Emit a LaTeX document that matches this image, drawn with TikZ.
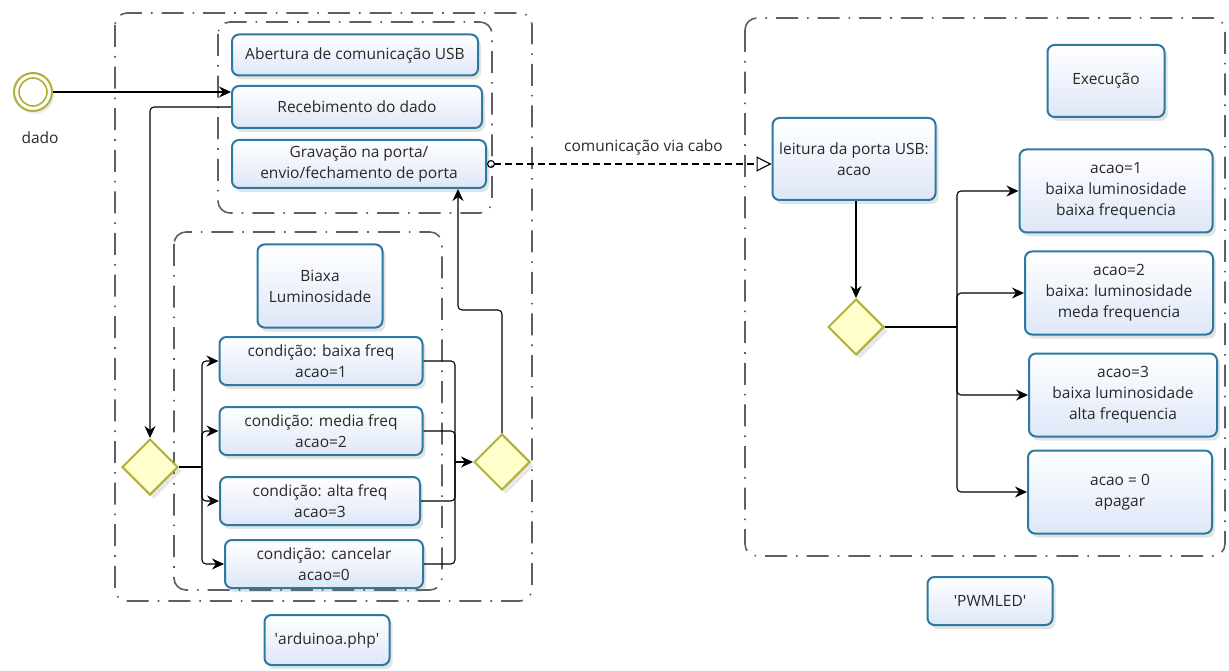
\documentclass[tikz,border=0pt]{standalone}
\usepackage{fontspec}
\setmainfont{Open Sans}
\usetikzlibrary{shapes.geometric,arrows.meta,shadows}
\definecolor{boxline}{RGB}{44,122,160}
\definecolor{boxfill}{RGB}{222,231,248}
\definecolor{gwline}{RGB}{176,176,56}
\definecolor{gwfill}{RGB}{255,255,204}
\definecolor{poolline}{RGB}{95,95,95}
\definecolor{txt}{RGB}{40,40,40}
\tikzset{
  task/.style={rectangle, rounded corners=7pt, draw=boxline, line width=2pt,
    top color=white, bottom color=boxfill, align=center, text=txt,
    font=\fontsize{15.5}{21}\selectfont, inner sep=1pt,
    drop shadow={opacity=0.22, shadow xshift=3pt, shadow yshift=-4pt}},
  gateway/.style={diamond, draw=gwline, fill=gwfill, line width=2pt,
    minimum width=56pt, minimum height=56pt, inner sep=0pt,
    drop shadow={opacity=0.18, shadow xshift=4pt, shadow yshift=-4pt}},
  pool/.style={draw=poolline, line width=1.6pt, rounded corners=12pt,
    dash pattern=on 22pt off 9pt on 1.6pt off 9pt},
  flow/.style={draw=black, line width=1.1pt, rounded corners=4pt,
    -{Stealth[length=12pt,width=11pt]}},
  line/.style={draw=black, line width=1.1pt, rounded corners=4pt},
}
\begin{document}
\begin{tikzpicture}[x=1pt,y=-1pt]
\useasboundingbox (0,0) rectangle (1229,671);

% containers
\draw[pool] (115,13) rectangle (532,601);
\draw[pool] (218,22) rectangle (492,213);
\draw[pool] (174,232) rectangle (442,590);
\draw[pool] (745,18) rectangle (1225,556);

% start event
\node[circle, draw=gwline, line width=2pt, fill=white, minimum size=38pt,
  drop shadow={opacity=0.15, shadow xshift=2pt, shadow yshift=-3pt}] (start) at (33,92) {};
\node[circle, draw=gwline, line width=1.6pt, minimum size=28pt] (startin) at (33,92) {};
\node[text=txt, font=\fontsize{15.5}{18}\selectfont] (dado) at (40,138) {dado};

% left process
\node[task, minimum width=246pt, minimum height=41pt] (abertura) at (355,55) {Abertura de comunicação USB};
\node[task, minimum width=250pt, minimum height=42pt] (receb) at (357,107) {Recebimento do dado};
\node[task, minimum width=254pt, minimum height=48pt] (grav) at (359,164) {Gravação na porta/\\envio/fechamento de porta};
\node[task, minimum width=125pt, minimum height=83pt] (biaxa) at (320,286) {Biaxa\\Luminosidade};
\node[task, minimum width=203pt, minimum height=48pt] (c1) at (321,361) {condição: baixa freq\\acao=1};
\node[task, minimum width=203pt, minimum height=48pt] (c2) at (321,431) {condição: media freq\\acao=2};
\node[task, minimum width=200pt, minimum height=48pt] (c3) at (320,501) {condição: alta freq\\acao=3};
\node[task, minimum width=198pt, minimum height=48pt] (c4) at (324,564) {condição: cancelar\\acao=0};
\node[task, minimum width=125pt, minimum height=50pt] (ard) at (327,640) {\textquotesingle arduinoa.php\textquotesingle};
\node[gateway] (gl) at (150,467) {};
\node[gateway] (gr) at (502,462) {};

% right process
\node[task, minimum width=163pt, minimum height=82pt] (leit) at (854,159) {leitura da porta USB:\\acao};
\node[task, minimum width=117pt, minimum height=72pt] (exec) at (1106,81) {Execução};
\node[task, minimum width=193pt, minimum height=83pt] (a1) at (1116,191) {acao=1\\baixa luminosidade\\baixa frequencia};
\node[task, minimum width=188pt, minimum height=83pt] (a2) at (1119,293) {acao=2\\baixa: luminosidade\\meda frequencia};
\node[task, minimum width=188pt, minimum height=83pt] (a3) at (1123,395) {acao=3\\baixa luminosidade\\alta frequencia};
\node[task, minimum width=184pt, minimum height=83pt] (a0) at (1120,492) {acao = 0\\apagar};
\node[task, minimum width=125pt, minimum height=48pt] (pwm) at (990,601) {\textquotesingle PWMLED\textquotesingle};
\node[gateway] (gx) at (856,327) {};

% left flows
\draw[flow] (start.east) -- (receb.west |- 0,92);
\draw[flow] (receb.west) -| (gl.north);
\draw[line] (gl.east) -- (202,467);
\draw[flow] (202,467) |- (c1.west);
\draw[flow] (202,467) |- (c2.west);
\draw[flow] (202,467) |- (c3.west);
\draw[flow] (202,467) |- (c4.west);
\coordinate (mj) at (455,462);
\draw[line] (c1.east) -| (mj);
\draw[line] (c2.east) -| (mj);
\draw[line] (c3.east) -| (mj);
\draw[line] (c4.east) -| (mj);
\draw[flow] (mj) -- (gr.west);
\draw[flow] (gr.north) |- (458,310) -- (grav.south -| 458,0);

% message flow
\draw[line width=1.1pt, dash pattern=on 7pt off 4pt,
  {Circle[open,length=8pt,width=8pt]}-{Triangle[open,length=15pt,width=15pt]}]
  (grav.east) -- (leit.west |- grav.east)
  node[pos=0.55, above=5pt, text=txt, font=\fontsize{15.5}{18}\selectfont] (lbl) {comunicação via cabo};

% right flows
\draw[flow] (leit.south -| gx.north) -- (gx.north);
\coordinate (rj) at (957,327);
\draw[line] (gx.east) -- (rj);
\draw[flow] (rj) |- (a1.west);
\draw[flow] (rj) |- (a2.west);
\draw[flow] (rj) |- (a3.west);
\draw[flow] (rj) |- (a0.west);
\end{tikzpicture}
\end{document}
